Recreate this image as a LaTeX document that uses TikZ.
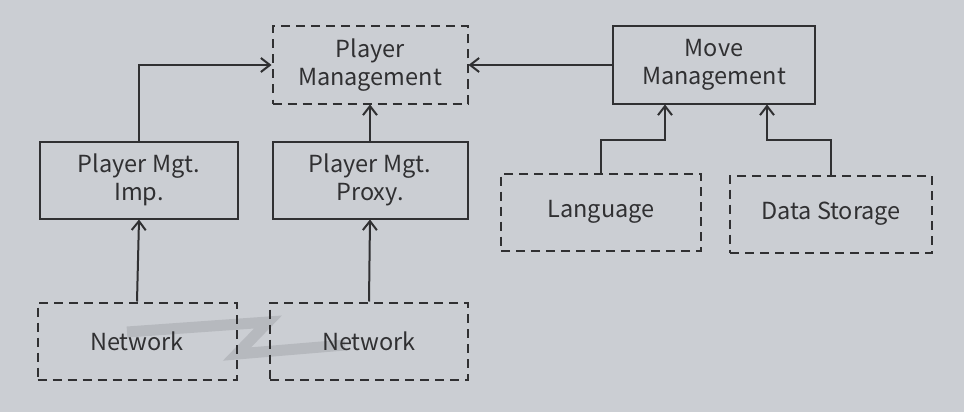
\documentclass[tikz,border=0pt]{standalone}
\usepackage{fontspec}
\setmainfont{Noto Sans CJK KR}
\usetikzlibrary{arrows.meta, positioning, backgrounds}
\definecolor{pagebg}{RGB}{203,206,211}
\definecolor{inkdark}{RGB}{48,48,50}
\definecolor{zapgrey}{RGB}{150,152,158}
\tikzset{
  box/.style={
    rectangle, draw=inkdark, line width=2pt,
    minimum width=#1, minimum height=77pt,
    inner sep=0pt, align=center, text=inkdark,
    font=\fontsize{23.5}{28}\selectfont
  },
  box/.default=198pt,
  dashbox/.style={box=#1, dash pattern=on 9pt off 6pt},
  dashbox/.default=198pt,
  arrow/.style={-{Straight Barb[length=9pt,width=14pt,line width=2pt]}, line width=2pt, color=inkdark},
  zap/.style={line width=11pt, color=zapgrey, opacity=0.38},
}

\begin{document}
\begin{tikzpicture}[x=1pt, y=-1pt]

\useasboundingbox[fill=pagebg] (0,0) rectangle (964,412);

%% network link (grey zigzag), drawn first so the boxes sit on it
\draw[zap] (127,332) -- (268,322) -- (237,354) -- (345,345);

%% --- top row -------------------------------------------------
\node[dashbox=195pt] (pm) at (370,65) {Player\\Management};
\node[box=202pt]     (mm) at (714,65) {Move\\Management};

%% --- middle row ----------------------------------------------
\node[box=198pt] (imp)   at (139,180) {Player Mgt.\\Imp.};
\node[box=195pt] (proxy) at (370,180) {Player Mgt.\\Proxy.};

\node[dashbox=200pt] (lang) at (601,212) {Language};
\node[dashbox=202pt] (data) at (831,214) {Data Storage};

%% --- bottom row ----------------------------------------------
\node[dashbox=199pt] (netl) at (137,341) {Network};
\node[dashbox=198pt] (netr) at (369,341) {Network};

%% --- connectors ----------------------------------------------
\draw[arrow] (imp.north) |- (pm.west);
\draw[arrow] (proxy.north) -- (pm.south);
\draw[arrow] (mm.west) -- (pm.east);

\draw[arrow] (lang.north) -- ++(0,-33) -| ([xshift=-49pt]mm.south);
\draw[arrow] (data.north) -- ++(0,-35) -| ([xshift=53pt]mm.south);

\draw[arrow] (netl.north) -- (imp.south);
\draw[arrow] (netr.north) -- (proxy.south);

\end{tikzpicture}
\end{document}
